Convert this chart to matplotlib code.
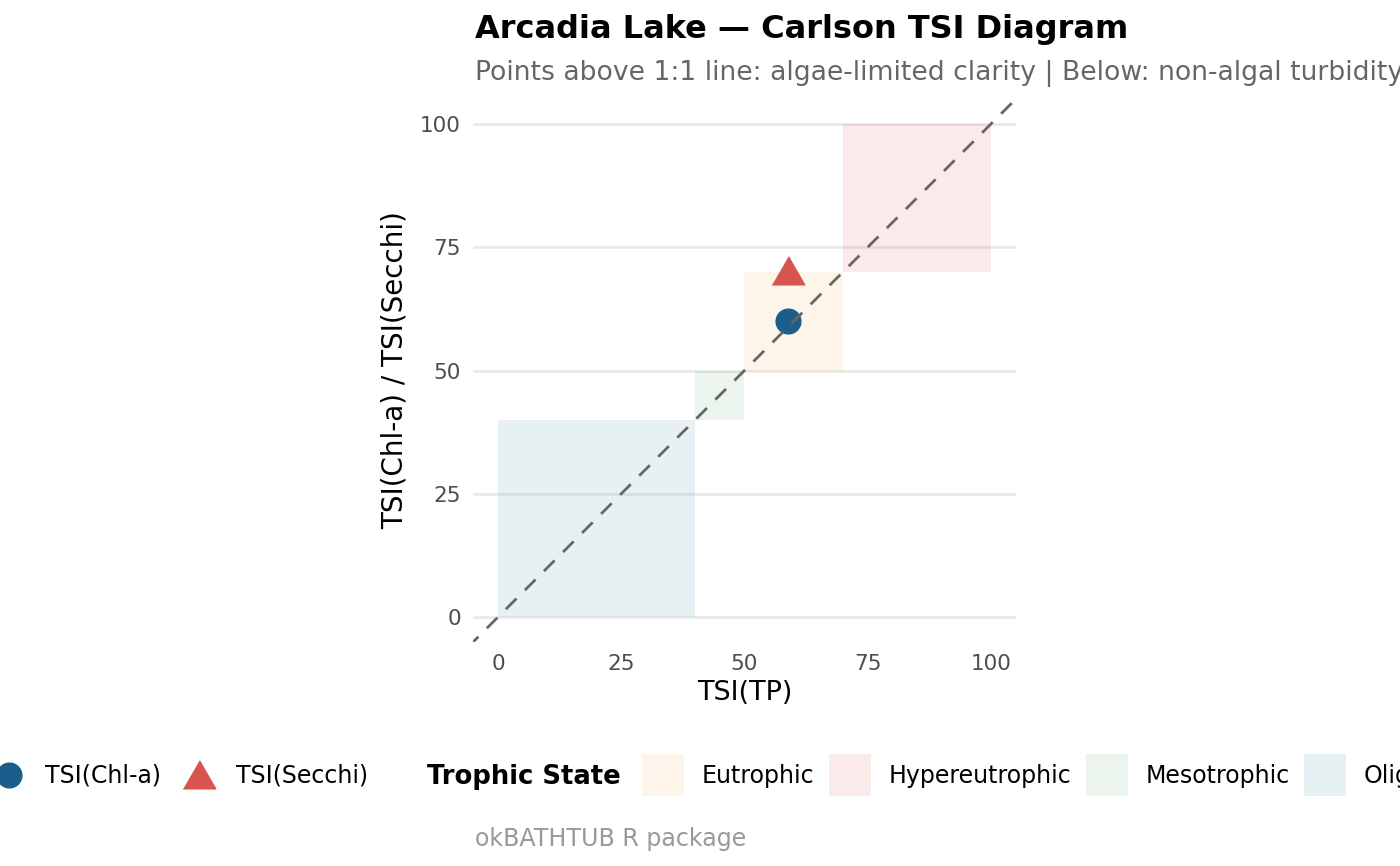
import matplotlib.pyplot as plt
from matplotlib.patches import Rectangle
from matplotlib.lines import Line2D

# data
tsi_tp = 58.9
tsi_chl = 60.1
tsi_secchi = 69.3

states = ["Oligotrophic", "Mesotrophic", "Eutrophic", "Hypereutrophic"]
state_lo = [0, 40, 50, 70]
state_hi = [40, 50, 70, 100]
state_col = ["#1B7F99", "#3BA55C", "#F0A030", "#D9534F"]
state_alpha = [0.1, 0.1, 0.1, 0.12]

ticks = [0, 25, 50, 75, 100]

W, H = 1400, 866
fig = plt.figure(figsize=(14, 8.66), dpi=100)


def fx(x):
    return x / W


def fy(y):
    return 1 - y / H


ax = fig.add_axes([fx(473.35), fy(641.7), 542.25 / W, 542.4 / H])
ax.set_xlim(-5, 105)
ax.set_ylim(-5, 105)

for lo, hi, c, a in zip(state_lo, state_hi, state_col, state_alpha):
    ax.add_patch(Rectangle((lo, lo), hi - lo, hi - lo, facecolor=c, alpha=a,
                           edgecolor="none", zorder=2))

ax.set_xticks(ticks)
ax.set_yticks(ticks)
ax.grid(axis="y", color="#e8e8e8", lw=1.9, zorder=1)
ax.grid(axis="x", visible=False)
for s in ax.spines.values():
    s.set_visible(False)
ax.tick_params(length=0, labelsize=15.5, labelcolor="#4d4d4d", pad=9)

tri = [(-1, -0.577), (1, -0.577), (0, 1.155)]
ax.plot([tsi_tp], [tsi_chl], "o", ms=17.8, color="#1B5E8C", zorder=3)
ax.plot([tsi_tp], [tsi_secchi], marker=tri, ms=27, color="#D9534F",
        ls="none", zorder=3)
ax.plot([-10, 110], [-10, 110], color="#666666", lw=2,
        ls=(0, (5.4, 4.3)), zorder=4)

ax.set_xlabel("TSI(TP)", fontsize=19.5, labelpad=4)
ax.set_ylabel("TSI(Chl-a) / TSI(Secchi)", fontsize=20, labelpad=8)

fig.text(fx(475), fy(38), "Arcadia Lake \u2014 Carlson TSI Diagram",
         fontsize=23, fontweight="bold", va="baseline")
fig.text(fx(475), fy(80), "Points above 1:1 line: algae-limited clarity | "
         "Below: non-algal turbidity", fontsize=19.2, color="#666666",
         va="baseline")
fig.text(fx(475), fy(846), "okBATHTUB R package", fontsize=17.1,
         color="#999999", va="baseline")

# legend row
ly = 775
fig.add_artist(Line2D([fx(9)], [fy(ly)], marker="o", ms=17.8,
                      color="#1B5E8C", ls="none"))
fig.text(fx(45), fy(783), "TSI(Chl-a)", fontsize=17, va="baseline")
fig.add_artist(Line2D([fx(199)], [fy(ly + 4)], marker=tri, ms=27,
                      color="#D9534F", ls="none"))
fig.text(fx(236), fy(783), "TSI(Secchi)", fontsize=17, va="baseline")
fig.text(fx(427), fy(784), "Trophic State", fontsize=18.6, fontweight="bold",
         va="baseline")

leg_order = ["Eutrophic", "Hypereutrophic", "Mesotrophic", "Oligotrophic"]
box_x = [642, 829, 1086, 1304]
for name, bx in zip(leg_order, box_x):
    i = states.index(name)
    fig.add_artist(Rectangle((fx(bx), fy(ly + 21)), 42 / W, 42 / H,
                             transform=fig.transFigure,
                             facecolor=state_col[i], alpha=state_alpha[i],
                             edgecolor="none"))
    fig.text(fx(bx + 60), fy(783), name, fontsize=17, va="baseline")

fig.savefig("out.png", dpi=100)
